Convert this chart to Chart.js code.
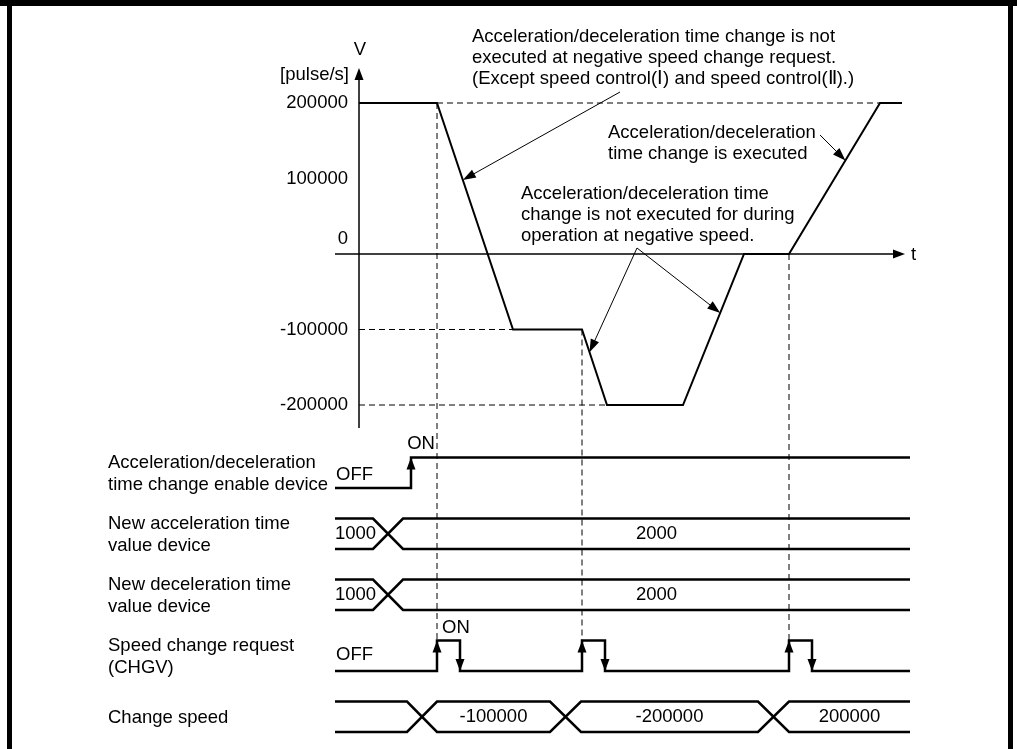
<!DOCTYPE html>
<html>
<head>
<meta charset="utf-8">
<style>
  html, body { margin: 0; padding: 0; background: #fff; }
  canvas { display: block; }
</style>
</head>
<body>
<canvas id="myChart" width="1017" height="749"></canvas>
<script src="https://cdn.jsdelivr.net/npm/chart.js@4.4.1/dist/chart.umd.min.js"></script>
<script>
// speed profile (time in diagram units, speed in pulse/s)
var speedTimes  = [0, 7.8, 15.4, 22.3, 24.8, 32.4, 38.5, 43.0, 52.1, 54.3];
var speedValues = [200000, 200000, -100000, -100000, -200000, -200000, 0, 0, 200000, 200000];
var speedTicks  = [200000, 100000, 0, -100000, -200000];

// timing rows
var timeStart = -2.4;
var timeEnd = 55.1;
var enableOnTime = 5.2;
var requestOnTimes  = [7.8, 22.3, 43.0];
var requestOffTimes = [10.1, 24.6, 45.3];
var accelChange = [[1.4, 4.4]];
var accelValues = ['1000', '2000'];
var decelChange = [[1.4, 4.4]];
var decelValues = ['1000', '2000'];
var speedChange = [[4.8, 7.8], [19.1, 22.2], [39.9, 43.0]];
var speedChangeValues = ['', '-100000', '-200000', '200000'];

var rowLabels = [
    ['Acceleration/deceleration', 'time change enable device'],
    ['New acceleration time', 'value device'],
    ['New deceleration time', 'value device'],
    ['Speed change request', '(CHGV)'],
    ['Change speed']
];

var notes = [
    {
        lines: ['Acceleration/deceleration time change is not',
                'executed at negative speed change request.',
                '(Except speed control(\u2160) and speed control(\u2161).)'],
        x: 472, y: 37,
        leaders: [{ from: [620, 92], seg: 1, f: 0.34 }]
    },
    {
        lines: ['Acceleration/deceleration', 'time change is executed'],
        x: 608, y: 133,
        leaders: [{ from: [820, 135], seg: 7, f: 0.62 }]
    },
    {
        lines: ['Acceleration/deceleration time',
                'change is not executed for during',
                'operation at negative speed.'],
        x: 521, y: 194,
        leaders: [{ from: [637, 248], seg: 3, f: 0.30 }, { from: [637, 248], seg: 5, f: 0.61 }]
    }
];

var W = 1017, H = 749;
var FONT = '18.5px "Liberation Sans", Arial, sans-serif';

// scale ranges so that chosen values land on the reference positions
function xRange(v1, p1, v2, p2) {
    var k = (p2 - p1) / (v2 - v1);
    var min = v1 - p1 / k;
    return { min: min, max: min + W / k };
}
function yRange(v1, p1, v2, p2) {
    var k = (p2 - p1) / (v1 - v2);
    var max = v1 + p1 / k;
    return { min: max - H / k, max: max };
}
var xr = xRange(0, 359, 10, 459);
var vr = yRange(200000, 103, -200000, 405);
var rr = yRange(0, 488, -4, 732);

function level(row, l) { return -row + l * 0.5; }

var speedData = speedTimes.map(function (t, i) { return { x: t, y: speedValues[i] }; });

var enableData = [
    { x: timeStart, y: level(0, 0) },
    { x: enableOnTime, y: level(0, 1) },
    { x: timeEnd, y: level(0, 1) }
];

var requestData = [{ x: timeStart, y: level(3, 0) }];
requestOnTimes.forEach(function (t, i) {
    requestData.push({ x: t, y: level(3, 1) }, { x: requestOffTimes[i], y: level(3, 0) });
});
requestData.push({ x: timeEnd, y: level(3, 0) });

function busTraces(row, windows) {
    var hi = level(row, 1), lo = level(row, 0);
    var a = [{ x: timeStart, y: hi }], b = [{ x: timeStart, y: lo }];
    var up = true;
    windows.forEach(function (w) {
        a.push({ x: w[0], y: up ? hi : lo }, { x: w[1], y: up ? lo : hi });
        b.push({ x: w[0], y: up ? lo : hi }, { x: w[1], y: up ? hi : lo });
        up = !up;
    });
    a.push({ x: timeEnd, y: up ? hi : lo });
    b.push({ x: timeEnd, y: up ? lo : hi });
    return [a, b];
}

function signal(data, stepped) {
    return {
        data: data, yAxisID: 'yRow', borderColor: '#000', borderWidth: 2.5,
        stepped: stepped || false, pointRadius: 0, fill: false, tension: 0
    };
}

var datasets = [{
    data: speedData, yAxisID: 'ySpeed', borderColor: '#000', borderWidth: 2,
    pointRadius: 0, fill: false, tension: 0
}];
datasets.push(signal(enableData, 'before'));
datasets.push(signal(requestData, 'before'));
[[1, accelChange], [2, decelChange], [4, speedChange]].forEach(function (b) {
    busTraces(b[0], b[1]).forEach(function (tr) { datasets.push(signal(tr)); });
});

function arrowHead(ctx, x, y, ang, len, half) {
    ctx.save();
    ctx.translate(x, y);
    ctx.rotate(ang);
    ctx.beginPath();
    ctx.moveTo(0, 0);
    ctx.lineTo(-len, -half);
    ctx.lineTo(-len, half);
    ctx.closePath();
    ctx.fill();
    ctx.restore();
}

function line(ctx, x1, y1, x2, y2) {
    ctx.beginPath();
    ctx.moveTo(x1, y1);
    ctx.lineTo(x2, y2);
    ctx.stroke();
}

function speedAt(t) {
    for (var i = 0; i < speedTimes.length - 1; i++) {
        if (t >= speedTimes[i] && t <= speedTimes[i + 1]) {
            var f = (t - speedTimes[i]) / (speedTimes[i + 1] - speedTimes[i]);
            return speedValues[i] + f * (speedValues[i + 1] - speedValues[i]);
        }
    }
    return speedValues[speedValues.length - 1];
}

var diagram = {
    id: 'diagram',
    beforeDatasetsDraw: function (chart) {
        var ctx = chart.ctx, x = chart.scales.x, v = chart.scales.ySpeed, r = chart.scales.yRow;
        ctx.save();
        ctx.strokeStyle = '#000';
        ctx.lineWidth = 1;
        ctx.setLineDash([6, 4]);
        // horizontal guides
        line(ctx, x.getPixelForValue(speedTimes[1]), v.getPixelForValue(200000),
             x.getPixelForValue(speedTimes[8]), v.getPixelForValue(200000));
        line(ctx, x.getPixelForValue(0), v.getPixelForValue(-100000),
             x.getPixelForValue(speedTimes[2]), v.getPixelForValue(-100000));
        line(ctx, x.getPixelForValue(0), v.getPixelForValue(-200000),
             x.getPixelForValue(speedTimes[4]), v.getPixelForValue(-200000));
        // vertical guides at each speed change request
        requestOnTimes.forEach(function (t) {
            var px = x.getPixelForValue(t);
            line(ctx, px, v.getPixelForValue(speedAt(t)), px, r.getPixelForValue(level(3, 1)));
        });
        ctx.restore();
    },
    afterDatasetsDraw: function (chart) {
        var ctx = chart.ctx, x = chart.scales.x, v = chart.scales.ySpeed, r = chart.scales.yRow;
        ctx.save();
        ctx.fillStyle = '#000';
        ctx.strokeStyle = '#000';

        // page frame
        ctx.fillRect(0, 0, W, 6);
        ctx.fillRect(7, 0, 5, H);
        ctx.fillRect(1008, 0, 5, H);

        // axes
        var x0 = x.getPixelForValue(0);
        var yTop = v.getPixelForValue(200000);
        var y0 = v.getPixelForValue(0);
        var tipY = yTop - 35;
        var tipX = x.getPixelForValue(54.6);
        ctx.lineWidth = 1.5;
        line(ctx, x0, v.getPixelForValue(-200000) + 23, x0, tipY + 8);
        line(ctx, x0 - 24, y0, tipX - 8, y0);
        arrowHead(ctx, x0, tipY, -Math.PI / 2, 12, 4.5);
        arrowHead(ctx, tipX, y0, 0, 12, 4.5);

        ctx.font = FONT;
        ctx.textBaseline = 'middle';
        ctx.textAlign = 'center';
        ctx.fillText('V', x0 + 1, yTop - 53);
        ctx.textAlign = 'left';
        ctx.fillText('t', tipX + 6, y0 + 1);
        ctx.textAlign = 'right';
        ctx.fillText('[pulse/s]', x0 - 10, yTop - 28);
        speedTicks.forEach(function (val) {
            var py = v.getPixelForValue(val);
            if (val === 0) py -= 15;
            ctx.fillText(String(val), x0 - 11, py);
        });

        // row labels
        ctx.textAlign = 'left';
        rowLabels.forEach(function (lines, row) {
            var mid = r.getPixelForValue(level(row, 0)) - 14;
            lines.forEach(function (s, i) {
                ctx.fillText(s, 108, mid + (i - (lines.length - 1) / 2) * 22);
            });
        });

        // OFF / ON texts
        var xs = x.getPixelForValue(timeStart);
        ctx.fillText('OFF', xs + 1, r.getPixelForValue(level(0, 0)) - 13);
        ctx.fillText('OFF', xs + 1, r.getPixelForValue(level(3, 0)) - 16);
        ctx.fillText('ON', x.getPixelForValue(requestOnTimes[0]) + 5, r.getPixelForValue(level(3, 1)) - 13);
        ctx.textAlign = 'center';
        ctx.fillText('ON', x.getPixelForValue(enableOnTime) + 10, r.getPixelForValue(level(0, 1)) - 14);

        // edge arrows
        arrowHead(ctx, x.getPixelForValue(enableOnTime), r.getPixelForValue(level(0, 1)), -Math.PI / 2, 12, 4.5);
        requestOnTimes.forEach(function (t, i) {
            arrowHead(ctx, x.getPixelForValue(t), r.getPixelForValue(level(3, 1)), -Math.PI / 2, 12, 4.5);
            arrowHead(ctx, x.getPixelForValue(requestOffTimes[i]), r.getPixelForValue(level(3, 0)), Math.PI / 2, 12, 4.5);
        });

        // bus values
        [[1, accelChange, accelValues], [2, decelChange, decelValues], [4, speedChange, speedChangeValues]].forEach(function (b) {
            var py = r.getPixelForValue(level(b[0], 0.5));
            b[2].forEach(function (val, i) {
                if (!val) return;
                if (i === 0) {
                    ctx.textAlign = 'left';
                    ctx.fillText(val, xs, py);
                } else {
                    var a = b[1][i - 1][1];
                    var e = i < b[1].length ? b[1][i][0] : timeEnd;
                    ctx.textAlign = 'center';
                    ctx.fillText(val, x.getPixelForValue((a + e) / 2), py);
                }
            });
        });

        // annotations with leader arrows
        ctx.textAlign = 'left';
        ctx.lineWidth = 1;
        notes.forEach(function (n) {
            n.lines.forEach(function (s, i) { ctx.fillText(s, n.x, n.y + i * 21); });
            n.leaders.forEach(function (l) {
                var t = speedTimes[l.seg] + l.f * (speedTimes[l.seg + 1] - speedTimes[l.seg]);
                var s = speedValues[l.seg] + l.f * (speedValues[l.seg + 1] - speedValues[l.seg]);
                var tx = x.getPixelForValue(t), ty = v.getPixelForValue(s);
                var ang = Math.atan2(ty - l.from[1], tx - l.from[0]);
                line(ctx, l.from[0], l.from[1], tx - 10 * Math.cos(ang), ty - 10 * Math.sin(ang));
                arrowHead(ctx, tx, ty, ang, 13, 4.5);
            });
        });
        ctx.restore();
    }
};

var ctx = document.getElementById('myChart').getContext('2d');
var myChart = new Chart(ctx, {
    type: 'line',
    data: { datasets: datasets },
    options: {
        responsive: false,
        animation: false,
        layout: { padding: 0 },
        plugins: {
            legend: { display: false },
            tooltip: { enabled: false }
        },
        scales: {
            x: { type: 'linear', axis: 'x', display: false, min: xr.min, max: xr.max },
            ySpeed: { type: 'linear', axis: 'y', display: false, min: vr.min, max: vr.max },
            yRow: { type: 'linear', axis: 'y', display: false, min: rr.min, max: rr.max }
        }
    },
    plugins: [diagram]
});
</script>
</body>
</html>
